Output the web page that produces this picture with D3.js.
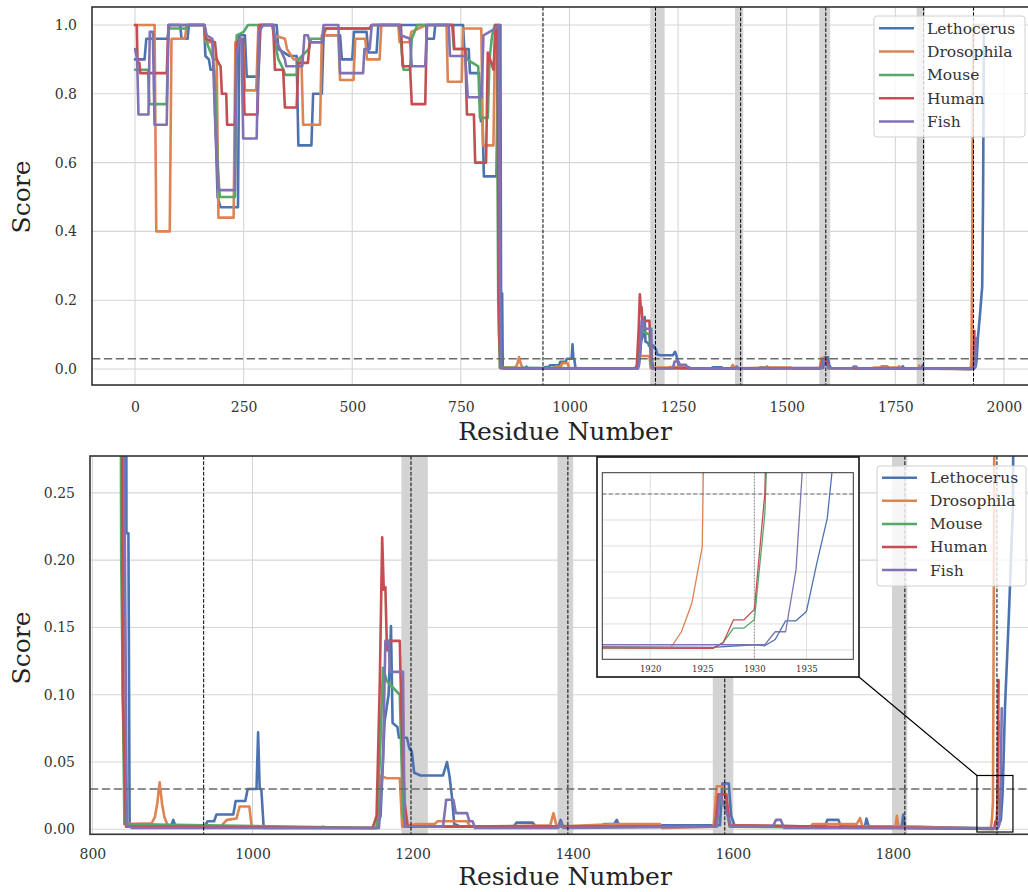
<!DOCTYPE html>
<html>
<head>
<meta charset="utf-8">
<script src="https://cdnjs.cloudflare.com/ajax/libs/d3/7.8.5/d3.min.js"></script>
<style>
    body { margin: 0; background: #fff; }
    svg { font-family: "DejaVu Serif", serif; }
</style>
</head>
<body>
<div id="chart"></div>
<script>

// ---- data ----
const species = ["Lethocerus", "Drosophila", "Mouse", "Human", "Fish"];
const speciesColors = ["#4c72b0", "#dd8452", "#55a868", "#c44e52", "#8172b3"];

// [residue, score]
const lethocerus = [[0,0.9],[22,0.9],[26,0.96],[75,0.96],[79,1.0],[104,1.0],[107,0.96],[121,0.96],[124,1.0],[159,1.0],[162,0.91],[170,0.9],[174,0.87],[182,0.87],[185,0.72],[190,0.5],[197,0.47],[237,0.47],[240,0.97],[253,0.97],[257,0.85],[284,0.85],[289,1.0],[326,1.0],[330,0.93],[355,0.91],[372,0.91],[376,0.65],[406,0.65],[410,0.8],[430,0.8],[434,0.97],[472,0.97],[476,0.9],[500,0.9],[504,0.98],[533,0.98],[537,0.92],[556,0.92],[560,1.0],[670,1.0],[672,0.96],[688,0.96],[691,1.0],[755,1.0],[758,0.93],[768,0.93],[771,0.86],[792,0.86],[796,0.72],[800,0.72],[803,0.56],[832,0.56],[836,1.0],[841,1.0],[842.5,0.22],[845,0.22],[846.5,0.004],[850,0.002],[898,0.002],[901,0.007],[904,0.002],[940,0.002],[944,0.006],[952,0.006],[955,0.011],[976,0.011],[979,0.021],[991,0.021],[994,0.03],[1005,0.03],[1007,0.072],[1009,0.03],[1011,0.03],[1014,0.001],[1155,0.001],[1160,0.01],[1165,0.08],[1170,0.1],[1173,0.151],[1175,0.079],[1181,0.076],[1183,0.068],[1193,0.068],[1196,0.06],[1199,0.058],[1202,0.042],[1210,0.04],[1238,0.04],[1243,0.05],[1246,0.04],[1249,0.025],[1252,0.004],[1260,0.002],[1326,0.002],[1330,0.005],[1350,0.005],[1354,0.002],[1382,0.002],[1385,0.007],[1388,0.002],[1434,0.002],[1440,0.004],[1452,0.004],[1455,0.007],[1458,0.003],[1584,0.003],[1587,0.034],[1595,0.034],[1598,0.01],[1602,0.003],[1715,0.002],[1718,0.007],[1732,0.007],[1735,0.002],[1765,0.002],[1767,0.008],[1770,0.002],[1811,0.002],[1813,0.011],[1815,0.002],[1926,0.0005],[1930,0.001],[1931,0.0008],[1932,0.002],[1933,0.0056],[1934,0.0056],[1935,0.0074],[1936,0.0167],[1937,0.0253],[1938,0.045],[1940,0.09],[1945,0.16],[1950,0.24],[1952,0.5],[1954,1.0],[1958,1.0]];

const drosophila = [[0,1.0],[45,1.0],[49,0.4],[80,0.4],[84,0.96],[115,0.96],[119,1.0],[160,1.0],[163,0.95],[178,0.95],[181,0.9],[188,0.9],[192,0.44],[227,0.44],[231,0.95],[249,0.95],[253,0.81],[279,0.81],[284,1.0],[315,1.0],[320,0.97],[345,0.96],[350,0.93],[365,0.9],[383,0.9],[387,0.71],[426,0.71],[430,0.97],[468,0.97],[472,0.84],[503,0.84],[507,0.96],[530,0.96],[534,0.9],[563,0.9],[567,1.0],[606,1.0],[609,0.95],[632,0.95],[636,0.98],[670,1.0],[717,1.0],[720,0.835],[752,0.835],[755,0.99],[797,0.99],[801,0.65],[825,0.65],[829,1.0],[836,1.0],[840,0.004],[874,0.0045],[878,0.009],[881,0.019],[884,0.035],[887,0.019],[890,0.009],[894,0.003],[960,0.002],[968,0.007],[980,0.008],[984,0.017],[996,0.017],[999,0.002],[1085,0.001],[1088,0.002],[1091,0.001],[1155,0.001],[1160,0.04],[1167,0.038],[1184,0.038],[1187,0.002],[1205,0.004],[1228,0.004],[1231,0.006],[1268,0.006],[1272,0.002],[1372,0.003],[1376,0.012],[1380,0.002],[1455,0.004],[1509,0.004],[1512,0.001],[1576,0.002],[1580,0.032],[1586,0.032],[1590,0.028],[1596,0.003],[1697,0.002],[1700,0.004],[1755,0.004],[1759,0.0083],[1762,0.002],[1803,0.002],[1805,0.01],[1807,0.002],[1919,0.0005],[1922,0.0005],[1923,0.0035],[1924,0.009],[1925,0.0199],[1926,0.16],[1927,0.35],[1928,0.7],[1929,0.95],[1930,1.0],[1950,1.0]];

const mouse = [[0,0.87],[30,0.87],[33,0.77],[73,0.77],[77,0.99],[118,0.99],[122,1.0],[160,1.0],[165,0.95],[180,0.9],[185,0.8],[190,0.6],[195,0.5],[230,0.5],[234,0.97],[250,0.98],[260,1.0],[318,1.0],[322,0.95],[330,0.9],[342,0.87],[345,0.855],[372,0.855],[376,0.9],[400,0.93],[405,0.96],[430,0.96],[440,0.99],[540,0.99],[545,1.0],[610,1.0],[614,0.92],[618,0.87],[633,0.87],[637,0.96],[650,1.0],[730,1.0],[734,0.93],[760,0.93],[764,0.9],[790,0.88],[794,0.73],[812,0.73],[816,0.9],[822,0.97],[828,1.0],[833,0.9],[836,0.2],[840,0.004],[1155,0.001],[1159,0.05],[1163,0.12],[1168,0.11],[1184,0.1],[1188,0.01],[1192,0.002],[1578,0.002],[1582,0.02],[1592,0.02],[1596,0.002],[1926,0.0003],[1927,0.0014],[1928,0.0042],[1929,0.0042],[1930,0.0058],[1931,0.026],[1932,0.08]];

const human = [[0,1.0],[4,1.0],[6,0.89],[10,0.89],[12,0.86],[73,0.86],[77,1.0],[160,1.0],[163,0.96],[184,0.95],[188,0.9],[197,0.88],[200,0.8],[210,0.8],[212,0.71],[230,0.71],[235,0.95],[240,0.96],[248,0.96],[252,0.74],[282,0.74],[287,1.0],[318,1.0],[322,0.87],[341,0.87],[345,0.76],[372,0.76],[376,0.89],[398,0.89],[402,0.95],[432,0.95],[436,0.99],[540,0.99],[545,1.0],[612,1.0],[616,0.88],[633,0.88],[637,0.77],[668,0.77],[672,1.0],[732,1.0],[735,0.93],[760,0.93],[764,0.74],[780,0.74],[783,0.6],[808,0.6],[812,0.92],[825,0.87],[830,1.0],[834,1.0],[838,0.1],[842,0.002],[1150,0.001],[1155,0.01],[1159,0.108],[1162,0.217],[1164,0.178],[1166,0.18],[1168,0.133],[1170,0.14],[1184,0.14],[1186,0.087],[1190,0.02],[1194,0.002],[1382,0.002],[1385,0.005],[1388,0.002],[1578,0.002],[1582,0.026],[1592,0.026],[1596,0.003],[1926,0.0003],[1927,0.0014],[1928,0.0058],[1929,0.0058],[1930,0.0078],[1931,0.03],[1932,0.111]];

const fish = [[0,0.93],[5,0.9],[8,0.74],[31,0.74],[34,0.98],[41,0.98],[45,0.71],[73,0.71],[77,1.0],[160,1.0],[165,0.97],[178,0.96],[185,0.7],[192,0.52],[230,0.52],[233,0.9],[240,0.96],[245,0.96],[249,0.67],[280,0.67],[285,0.98],[295,1.0],[318,1.0],[322,0.96],[334,0.93],[345,0.9],[348,0.88],[385,0.88],[390,0.97],[398,0.97],[402,0.95],[430,0.95],[434,1.0],[468,1.0],[472,0.86],[525,0.86],[528,0.93],[540,0.93],[545,1.0],[608,1.0],[612,0.97],[633,0.96],[637,0.88],[668,0.88],[672,1.0],[722,1.0],[725,0.91],[760,0.91],[766,0.79],[798,0.79],[802,0.97],[830,0.99],[838,1.0],[840,0.26],[843,0.003],[850,0.001],[1158,0.001],[1163,0.05],[1166,0.14],[1170,0.14],[1172,0.117],[1188,0.117],[1190,0.002],[1238,0.002],[1242,0.022],[1251,0.022],[1254,0.012],[1268,0.012],[1271,0.006],[1275,0.006],[1278,0.001],[1382,0.001],[1385,0.005],[1388,0.001],[1580,0.002],[1584,0.026],[1588,0.02],[1598,0.002],[1650,0.002],[1654,0.007],[1660,0.007],[1664,0.001],[1931,0.001],[1932,0.0035],[1933,0.0035],[1934,0.0154],[1935,0.047],[1936,0.09]];

const seriesValues = [lethocerus, drosophila, mouse, human, fish];

const threshold = 0.03;
const boundaryLines = [939, 1198, 1394, 1590, 1815, 1930];
const boundaryBands = [[1186, 1219], [1381, 1400], [1575, 1600], [1799, 1818]];

const topXTicks = [0, 250, 500, 750, 1000, 1250, 1500, 1750, 2000];
const topYTicks = [0, 0.2, 0.4, 0.6, 0.8, 1.0];
const bottomXTicks = [800, 1000, 1200, 1400, 1600, 1800];
const bottomYTicks = [0, 0.05, 0.10, 0.15, 0.20, 0.25];
const insetXTicks = [1920, 1925, 1930, 1935];
const insetYTicks = [0, 0.005, 0.01, 0.015, 0.02, 0.025, 0.03];
const zoomBox = {x0: 1905, x1: 1950, y0: -0.002, y1: 0.040};


class ScoreChart {

    constructor(svg, config) {
        this.svg = svg;
        this.config = config;
        this.displayData = species.map((name, i) => ({name: name, color: speciesColors[i], values: seriesValues[i]}));

        this.initVis();
    }

    initVis() {
        let vis = this;
        let c = vis.config;

        vis.x = d3.scaleLinear().domain(c.xDomain).range([c.left, c.right]);
        vis.y = d3.scaleLinear().domain(c.yDomain).range([c.bottom, c.top]);

        vis.g = vis.svg.append("g").attr("class", c.id);

        vis.g.append("clipPath")
            .attr("id", c.id + "-clip")
            .append("rect")
            .attr("x", c.left)
            .attr("y", c.top)
            .attr("width", c.right - c.left)
            .attr("height", c.bottom - c.top);

        vis.g.append("rect")
            .attr("x", c.left).attr("y", c.top)
            .attr("width", c.right - c.left).attr("height", c.bottom - c.top)
            .attr("fill", "#fff");

        vis.plot = vis.g.append("g").attr("clip-path", `url(#${c.id}-clip)`);

        // grid
        vis.plot.selectAll(".xgrid")
            .data(c.xTicks)
            .enter().append("line")
            .attr("class", "xgrid")
            .attr("x1", d => vis.x(d)).attr("x2", d => vis.x(d))
            .attr("y1", c.top).attr("y2", c.bottom)
            .attr("stroke", "#d6d6d6").attr("stroke-width", c.gridWidth);

        vis.plot.selectAll(".ygrid")
            .data(c.yTicks)
            .enter().append("line")
            .attr("class", "ygrid")
            .attr("x1", c.left).attr("x2", c.right)
            .attr("y1", d => vis.y(d)).attr("y2", d => vis.y(d))
            .attr("stroke", "#d6d6d6").attr("stroke-width", c.gridWidth);

        // shaded regions
        vis.plot.selectAll(".band")
            .data(boundaryBands)
            .enter().append("rect")
            .attr("class", "band")
            .attr("x", d => vis.x(d[0]))
            .attr("width", d => vis.x(d[1]) - vis.x(d[0]))
            .attr("y", c.top).attr("height", c.bottom - c.top)
            .attr("fill", "#d3d3d3");

        vis.wrangleData();
    }

    wrangleData() {
        let vis = this;
        let lo = vis.config.xDomain[0] - 5, hi = vis.config.xDomain[1] + 5;

        // keep only the points near the visible window
        vis.lineData = vis.displayData.map(s => {
            let idx = s.values.map((p, i) => (p[0] >= lo && p[0] <= hi) ? i : -1).filter(i => i >= 0);
            if (idx.length == 0) return {name: s.name, color: s.color, values: []};
            let a = Math.max(0, idx[0] - 1), b = Math.min(s.values.length, idx[idx.length - 1] + 2);
            return {name: s.name, color: s.color, values: s.values.slice(a, b)};
        });

        vis.updateVis();
    }

    updateVis() {
        let vis = this;
        let c = vis.config;

        let line = d3.line()
            .x(d => vis.x(d[0]))
            .y(d => vis.y(d[1]));

        vis.plot.selectAll(".series")
            .data(vis.lineData)
            .enter().append("path")
            .attr("class", "series")
            .attr("d", d => line(d.values))
            .attr("fill", "none")
            .attr("stroke", d => d.color)
            .attr("stroke-width", c.lineWidth)
            .attr("stroke-linejoin", "round")
            .attr("stroke-linecap", "round");

        // threshold
        vis.plot.append("line")
            .attr("x1", c.left).attr("x2", c.right)
            .attr("y1", vis.y(threshold)).attr("y2", vis.y(threshold))
            .attr("stroke", "#6b6b6b")
            .attr("stroke-width", c.threshWidth)
            .attr("stroke-dasharray", c.threshDash);

        // domain boundaries
        vis.plot.selectAll(".vline")
            .data(boundaryLines)
            .enter().append("line")
            .attr("class", "vline")
            .attr("x1", d => vis.x(d)).attr("x2", d => vis.x(d))
            .attr("y1", c.top).attr("y2", c.bottom)
            .attr("stroke", c.vlineColor)
            .attr("stroke-width", c.vlineWidth)
            .attr("stroke-dasharray", c.vlineDash);

        // frame
        vis.g.append("rect")
            .attr("x", c.left).attr("y", c.top)
            .attr("width", c.right - c.left).attr("height", c.bottom - c.top)
            .attr("fill", "none")
            .attr("stroke", "#333")
            .attr("stroke-width", c.frameWidth);

        // axes
        let xAxis = d3.axisBottom(vis.x).tickValues(c.xTicks).tickSize(0).tickPadding(c.xPad).tickFormat(d3.format("d"));
        let xg = vis.g.append("g")
            .attr("transform", `translate(0, ${c.bottom})`)
            .call(xAxis);
        xg.select(".domain").remove();
        xg.selectAll("text").attr("fill", "#333").style("font-size", c.tickFont + "px").style("font-family", "DejaVu Serif");

        if (c.yFormat) {
            let yAxis = d3.axisLeft(vis.y).tickValues(c.yTicks).tickSize(0).tickPadding(c.yPad).tickFormat(d3.format(c.yFormat));
            let yg = vis.g.append("g")
                .attr("transform", `translate(${c.left}, 0)`)
                .call(yAxis);
            yg.select(".domain").remove();
            yg.selectAll("text").attr("fill", "#333").style("font-size", c.tickFont + "px").style("font-family", "DejaVu Serif");
        }

        if (c.xLabel) {
            vis.g.append("text")
                .attr("x", c.xLabel[0]).attr("y", c.xLabel[1])
                .attr("text-anchor", "middle")
                .attr("fill", "#222")
                .style("font-size", "25px")
                .text("Residue Number");

            vis.g.append("text")
                .attr("transform", `translate(${c.yLabel[0]}, ${c.yLabel[1]}) rotate(-90)`)
                .attr("text-anchor", "middle")
                .attr("fill", "#222")
                .style("font-size", "25px")
                .text("Score");
        }

        if (c.legend) vis.drawLegend();
    }

    drawLegend() {
        let vis = this;
        let L = vis.config.legend;

        let lg = vis.g.append("g").attr("class", "legend");
        lg.append("rect")
            .attr("x", L.x).attr("y", L.y)
            .attr("width", L.w).attr("height", L.h)
            .attr("rx", 3)
            .attr("fill", "rgba(255,255,255,0.8)")
            .attr("stroke", "#d0d0d0");

        let rows = lg.selectAll(".legend-row")
            .data(vis.displayData)
            .enter().append("g")
            .attr("class", "legend-row")
            .attr("transform", (d, i) => `translate(${L.x}, ${L.firstRow + i * L.rowStep})`);

        rows.append("line")
            .attr("x1", 5).attr("x2", 40)
            .attr("stroke", d => d.color)
            .attr("stroke-width", 2.5);

        rows.append("text")
            .attr("x", 53)
            .attr("dy", "0.35em")
            .attr("fill", "#333")
            .style("font-size", "15.5px")
            .text(d => d.name);
    }
}


const svg = d3.select("#chart").append("svg")
    .attr("width", 1028)
    .attr("height", 892);

const topChart = new ScoreChart(svg, {
    id: "top",
    left: 92, right: 1030, top: 7, bottom: 385,
    xDomain: [-99, 2060], yDomain: [-0.0465, 1.0523],
    xTicks: topXTicks, yTicks: topYTicks, yFormat: ".1f",
    xPad: 17, yPad: 15, tickFont: 14,
    lineWidth: 2.6, gridWidth: 1.1, frameWidth: 1.6,
    threshWidth: 1.5, threshDash: "8.3,3.6",
    vlineColor: "#000", vlineWidth: 1, vlineDash: "3.7,1.6",
    xLabel: [565, 440], yLabel: [30, 197],
    legend: {x: 874, y: 16, w: 151, h: 121, firstRow: 28.3, rowStep: 23.3}
});

const bottomChart = new ScoreChart(svg, {
    id: "bottom",
    left: 90, right: 1030, top: 456, bottom: 834.3,
    xDomain: [797, 1971.3], yDomain: [-0.0037, 0.2774],
    xTicks: bottomXTicks, yTicks: bottomYTicks, yFormat: ".2f",
    xPad: 15, yPad: 15, tickFont: 14,
    lineWidth: 2.6, gridWidth: 1.1, frameWidth: 1.6,
    threshWidth: 1.5, threshDash: "8.3,3.6",
    vlineColor: "#000", vlineWidth: 1, vlineDash: "3.7,1.6",
    xLabel: [565, 885], yLabel: [30, 648],
    legend: {x: 877, y: 466, w: 149, h: 120, firstRow: 477.7, rowStep: 23.1}
});

// zoom indicator on the lower panel
const zb = svg.append("g").attr("class", "zoom-box");
zb.append("rect")
    .attr("x", bottomChart.x(zoomBox.x0))
    .attr("y", bottomChart.y(zoomBox.y1))
    .attr("width", bottomChart.x(zoomBox.x1) - bottomChart.x(zoomBox.x0))
    .attr("height", bottomChart.y(zoomBox.y0) - bottomChart.y(zoomBox.y1))
    .attr("fill", "none")
    .attr("stroke", "#000")
    .attr("stroke-width", 1.2);
zb.append("line")
    .attr("x1", 859).attr("y1", 677)
    .attr("x2", bottomChart.x(zoomBox.x0)).attr("y2", bottomChart.y(zoomBox.y1))
    .attr("stroke", "#000")
    .attr("stroke-width", 1.2);

// inset panel
svg.append("rect")
    .attr("x", 597).attr("y", 457)
    .attr("width", 262).attr("height", 220)
    .attr("fill", "#fff")
    .attr("stroke", "#111")
    .attr("stroke-width", 1.6);

const insetChart = new ScoreChart(svg, {
    id: "inset",
    left: 602.3, right: 853.3, top: 472.7, bottom: 659.3,
    xDomain: [1915.4, 1939.5], yDomain: [-0.0018, 0.0341],
    xTicks: insetXTicks, yTicks: insetYTicks, yFormat: null,
    xPad: 6.5, yPad: 0, tickFont: 8.5,
    lineWidth: 1.3, gridWidth: 0.8, frameWidth: 1,
    threshWidth: 1, threshDash: "4,2.5",
    vlineColor: "#777", vlineWidth: 0.8, vlineDash: "1.5,1.5",
    xLabel: null, legend: null
});

</script>
</body>
</html>
